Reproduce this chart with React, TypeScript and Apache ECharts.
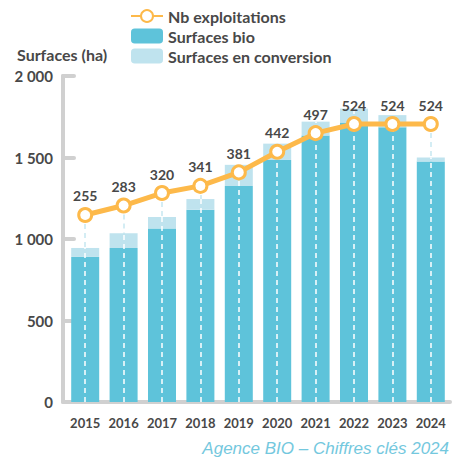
import React, { useEffect, useRef } from "react";
import * as echarts from "echarts";

const years = ["2015", "2016", "2017", "2018", "2019", "2020", "2021", "2022", "2023", "2024"];
const surfacesBio = [890, 945, 1065, 1180, 1325, 1485, 1635, 1715, 1685, 1475];
const surfacesConversion = [55, 90, 70, 65, 130, 100, 85, 85, 75, 25];
const nbExploitations = [255, 283, 320, 341, 381, 442, 497, 524, 524, 524];
const yTicks = [0, 500, 1000, 1500, 2000];

const FONT = "Lato, 'DejaVu Sans Condensed', sans-serif";
const TEXT = "#484848";
const AXIS = "#d0d0d0";
const DARK = "#5ec3da";
const LIGHT = "#bfe3ee";
const ORANGE = "#fdb94a";

const fmt = (v: number) => {
  const s = String(v);
  return v >= 1000 ? s.slice(0, s.length - 3) + " " + s.slice(-3) : s;
};

export default function App() {
  const ref = useRef<HTMLDivElement>(null);
  useEffect(() => {
    if (!ref.current) return;
    const chart = echarts.init(ref.current, undefined, { renderer: "svg" });
    const totals = surfacesBio.map((v, i) => v + surfacesConversion[i]);
    const lineMin = -298;
    chart.setOption({
      animation: false,
      title: [
        {
          text: "Surfaces (ha)",
          left: 17,
          top: 46,
          padding: 0,
          textStyle: { fontFamily: FONT, fontWeight: "bold", fontSize: 16, color: TEXT },
        },
        {
          text: "Agence BIO – Chiffres clés 2024",
          right: 12,
          top: 440,
          padding: 0,
          textStyle: {
            fontFamily: "'Liberation Sans', sans-serif",
            fontStyle: "italic",
            fontWeight: "normal",
            fontSize: 17,
            color: "#74c8de",
          },
        },
      ],
      legend: {
        orient: "vertical",
        left: 130,
        top: 8,
        padding: 0,
        itemWidth: 32,
        itemHeight: 15,
        itemGap: 4,
        selectedMode: false,
        data: ["Nb exploitations", "Surfaces bio", "Surfaces en conversion"],
        textStyle: { fontFamily: FONT, fontWeight: "bold", fontSize: 16, color: TEXT },
      },
      grid: { left: 66, right: 11, top: 76, bottom: 55 },
      xAxis: {
        type: "category",
        data: years,
        axisLine: { lineStyle: { color: AXIS, width: 4, cap: "round" } },
        axisTick: { show: false },
        axisLabel: {
          interval: 0,
          margin: 14,
          fontFamily: FONT,
          fontWeight: "bold",
          fontSize: 13,
          color: TEXT,
        },
      },
      yAxis: [
        {
          type: "value",
          min: yTicks[0],
          max: yTicks[yTicks.length - 1],
          interval: 500,
          offset: 3,
          axisLine: { show: true, lineStyle: { color: AXIS, width: 4, cap: "round" } },
          axisTick: { show: true, inside: true, length: 11, lineStyle: { color: AXIS, width: 4, cap: "round" } },
          splitLine: { show: false },
          axisLabel: {
            margin: 10,
            formatter: (v: number) => fmt(v),
            fontFamily: FONT,
            fontWeight: "bold",
            fontSize: 15,
            color: TEXT,
          },
        },
        { type: "value", min: lineMin, max: 666, show: false },
      ],
      series: [
        {
          name: "Surfaces bio",
          type: "bar",
          stack: "total",
          barWidth: 28,
          itemStyle: { color: DARK },
          data: surfacesBio,
          z: 2,
        },
        {
          name: "Surfaces en conversion",
          type: "bar",
          stack: "total",
          barWidth: 28,
          itemStyle: { color: LIGHT },
          data: surfacesConversion,
          z: 2,
        },
        {
          name: "dropBg",
          type: "line",
          yAxisIndex: 1,
          data: nbExploitations,
          showSymbol: false,
          symbol: "none",
          lineStyle: { opacity: 0 },
          silent: true,
          z: 1,
          markLine: {
            silent: true,
            z: 1,
            symbol: ["none", "none"],
            label: { show: false },
            lineStyle: { color: "#c6e7f1", type: [5, 4], width: 1.5 },
            data: nbExploitations.map((v, i) => [
              { coord: [years[i], v] },
              { coord: [years[i], lineMin] },
            ]),
          },
        },
        {
          name: "dropFg",
          type: "line",
          yAxisIndex: 0,
          data: totals,
          showSymbol: false,
          symbol: "none",
          lineStyle: { opacity: 0 },
          silent: true,
          z: 3,
          markLine: {
            silent: true,
            z: 3,
            symbol: ["none", "none"],
            label: { show: false },
            lineStyle: { color: "#ffffff", type: [5, 4], width: 1.5 },
            data: totals.map((v, i) => [
              { coord: [years[i], 0] },
              { coord: [years[i], v] },
            ]),
          },
        },
        {
          name: "Nb exploitations",
          type: "line",
          yAxisIndex: 1,
          data: nbExploitations,
          symbol: "circle",
          symbolSize: 13,
          z: 10,
          itemStyle: { color: "#ffffff", borderColor: ORANGE, borderWidth: 3 },
          lineStyle: { color: ORANGE, width: 5 },
          label: {
            show: true,
            position: "top",
            distance: 4,
            fontFamily: FONT,
            fontWeight: "bold",
            fontSize: 14,
            color: TEXT,
          },
        },
      ],
    });
    return () => chart.dispose();
  }, []);
  return (
    <div
      ref={ref}
      style={{ position: "fixed", left: 0, top: 0, width: 461, height: 457, background: "#fff" }}
    />
  );
}
